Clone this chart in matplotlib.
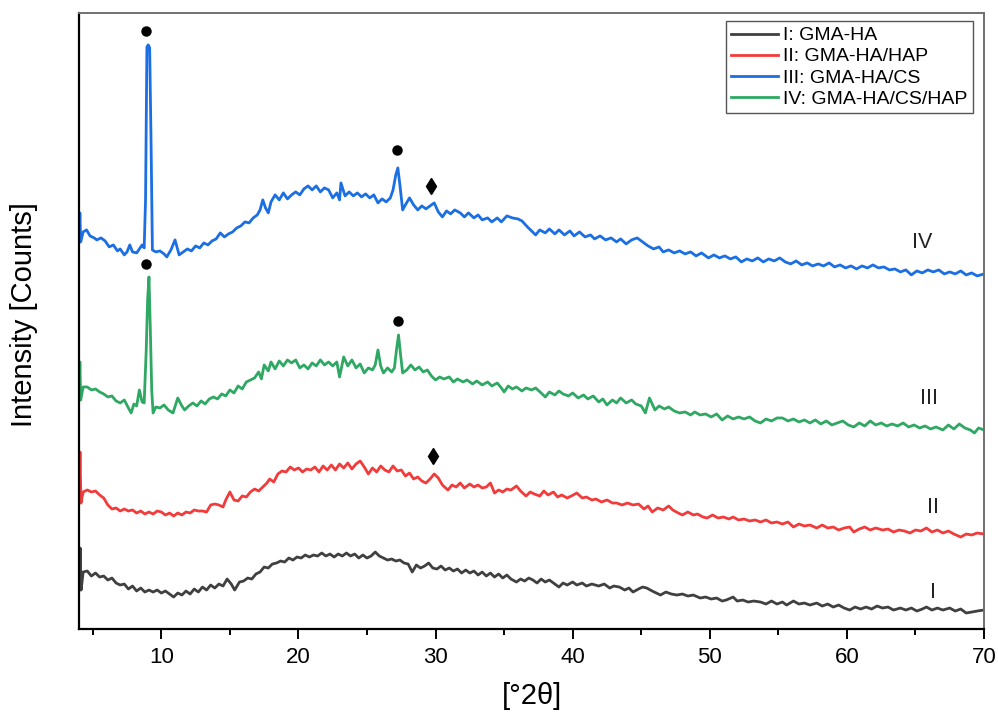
import matplotlib
matplotlib.use('Agg')
import matplotlib.pyplot as plt
import numpy as np

plt.rcParams['font.family'] = ['Liberation Sans', 'DejaVu Sans']

# XRD patterns, stacked with offsets (arbitrary counts)
# I: GMA-HA
curve_I = [
    (4.0, 39), (4.08, 81), (4.15, 39), (4.3, 57), (4.6, 58), (4.9, 53), (5.2, 56), (5.5, 52),
    (5.8, 53), (6.1, 49), (6.4, 51), (6.7, 46), (7.0, 44), (7.3, 45), (7.6, 40), (7.9, 43),
    (8.2, 38), (8.5, 41), (8.8, 37), (9.1, 39), (9.4, 37), (9.7, 39), (10.0, 36), (10.3, 38),
    (10.6, 35), (10.9, 32), (11.2, 36), (11.5, 34), (11.8, 38), (12.1, 35), (12.4, 40), (12.7, 37),
    (13.0, 42), (13.3, 39), (13.6, 44), (13.9, 41), (14.2, 45), (14.5, 43), (14.8, 50), (15.1, 45),
    (15.35, 39), (15.7, 47), (16.0, 48), (16.3, 51), (16.6, 50), (16.9, 55), (17.2, 57), (17.5, 62),
    (17.8, 61), (18.1, 65), (18.4, 66), (18.7, 68), (19.0, 67), (19.3, 71), (19.6, 69), (19.9, 72),
    (20.2, 71), (20.5, 74), (20.8, 72), (21.1, 74), (21.4, 73), (21.7, 76), (22.0, 73), (22.3, 75),
    (22.6, 72), (22.9, 75), (23.2, 73), (23.5, 76), (23.8, 73), (24.1, 75), (24.4, 71), (24.7, 74),
    (25.0, 71), (25.3, 73), (25.6, 77), (25.9, 73), (26.2, 71), (26.5, 69), (26.8, 70), (27.1, 68),
    (27.4, 69), (27.7, 66), (28.0, 65), (28.3, 57), (28.6, 64), (28.9, 61), (29.2, 63), (29.5, 66),
    (29.8, 61), (30.1, 60), (30.4, 63), (30.7, 59), (31.0, 61), (31.3, 58), (31.6, 60), (31.9, 56),
    (32.2, 59), (32.5, 56), (32.8, 58), (33.1, 54), (33.4, 57), (33.7, 53), (34.0, 56), (34.3, 52),
    (34.6, 55), (34.9, 51), (35.2, 54), (35.5, 50), (35.9, 47), (36.2, 50), (36.5, 48), (36.8, 51),
    (37.1, 49), (37.4, 46), (37.7, 50), (38.0, 47), (38.3, 49), (38.6, 46), (39.0, 42), (39.3, 46),
    (39.6, 44), (40.0, 47), (40.3, 44), (40.7, 46), (41.0, 43), (41.4, 45), (41.9, 43), (42.3, 45),
    (42.7, 41), (43.0, 43), (43.4, 42), (43.8, 39), (44.1, 41), (44.4, 37), (44.8, 40), (45.1, 42),
    (45.4, 41), (45.8, 38), (46.1, 36), (46.4, 34), (46.8, 37), (47.2, 35), (47.6, 34), (48.0, 35),
    (48.4, 33), (48.8, 34), (49.3, 31), (49.7, 32), (50.1, 30), (50.5, 31), (50.9, 28), (51.2, 29),
    (51.7, 32), (52.0, 28), (52.4, 29), (52.8, 27), (53.2, 28), (53.7, 27), (54.1, 25), (54.5, 28),
    (54.9, 25), (55.3, 27), (55.6, 24), (56.1, 28), (56.5, 25), (56.9, 26), (57.3, 24), (57.8, 26),
    (58.2, 23), (58.6, 25), (59.0, 22), (59.4, 24), (59.8, 21), (60.2, 19), (60.6, 22), (61.0, 20),
    (61.4, 22), (61.8, 20), (62.2, 23), (62.6, 21), (63.0, 22), (63.4, 19), (63.9, 21), (64.3, 19),
    (64.7, 21), (65.1, 18), (65.5, 20), (65.8, 22), (66.2, 19), (66.6, 21), (67.0, 19), (67.5, 21),
    (67.9, 18), (68.3, 20), (68.7, 16), (69.1, 17), (69.5, 18), (70.0, 19),
]

# II: GMA-HA/HAP
curve_II = [
    (4.0, 126), (4.07, 177), (4.14, 126), (4.3, 137), (4.6, 139), (4.9, 137), (5.2, 138), (5.5, 134),
    (5.8, 131), (6.1, 124), (6.4, 120), (6.7, 121), (7.0, 118), (7.3, 120), (7.6, 118), (7.9, 119),
    (8.2, 116), (8.5, 118), (8.8, 115), (9.1, 117), (9.4, 115), (9.7, 118), (10.0, 117), (10.3, 114),
    (10.6, 116), (10.9, 113), (11.2, 116), (11.5, 114), (11.8, 117), (12.1, 116), (12.4, 119), (12.7, 118),
    (13.0, 118), (13.3, 117), (13.6, 124), (13.9, 125), (14.2, 124), (14.5, 122), (14.7, 129), (15.0, 137),
    (15.3, 129), (15.6, 128), (15.9, 133), (16.2, 132), (16.5, 137), (16.8, 140), (17.1, 138), (17.4, 142),
    (17.7, 146), (17.9, 150), (18.2, 147), (18.5, 155), (18.8, 158), (19.1, 157), (19.4, 162), (19.7, 159),
    (20.0, 161), (20.3, 157), (20.6, 160), (20.9, 159), (21.2, 162), (21.5, 157), (21.8, 163), (22.1, 159),
    (22.4, 164), (22.7, 159), (23.0, 165), (23.3, 161), (23.6, 166), (23.9, 160), (24.2, 165), (24.5, 168),
    (24.8, 162), (25.1, 155), (25.4, 161), (25.7, 157), (26.0, 163), (26.3, 159), (26.6, 157), (26.9, 163),
    (27.2, 158), (27.5, 159), (27.8, 153), (28.1, 156), (28.4, 150), (28.7, 152), (29.0, 148), (29.3, 146),
    (29.6, 150), (29.9, 155), (30.2, 151), (30.5, 144), (30.9, 139), (31.2, 144), (31.5, 142), (31.8, 146),
    (32.1, 141), (32.5, 145), (32.8, 142), (33.1, 144), (33.4, 141), (33.7, 142), (34.0, 146), (34.3, 136),
    (34.6, 139), (34.9, 137), (35.2, 140), (35.5, 139), (35.9, 143), (36.2, 138), (36.6, 133), (36.9, 137),
    (37.2, 135), (37.6, 133), (37.9, 138), (38.2, 134), (38.6, 137), (38.9, 132), (39.2, 134), (39.6, 131),
    (39.9, 133), (40.3, 136), (40.7, 131), (41.0, 132), (41.4, 129), (41.7, 130), (42.1, 127), (42.5, 129),
    (42.9, 126), (43.2, 126), (43.6, 124), (44.0, 126), (44.4, 124), (44.8, 125), (45.2, 120), (45.5, 123),
    (45.8, 117), (46.2, 121), (46.6, 119), (47.0, 123), (47.3, 119), (47.7, 116), (48.0, 114), (48.4, 117),
    (48.8, 114), (49.1, 115), (49.5, 112), (49.8, 111), (50.2, 114), (50.6, 111), (51.0, 112), (51.4, 110),
    (51.7, 112), (52.1, 109), (52.5, 110), (52.9, 108), (53.3, 109), (53.7, 107), (54.1, 109), (54.5, 106),
    (54.9, 107), (55.3, 105), (55.7, 107), (56.1, 102), (56.5, 105), (56.9, 103), (57.3, 104), (57.8, 101),
    (58.2, 104), (58.6, 101), (59.0, 102), (59.4, 99), (59.8, 101), (60.2, 102), (60.5, 97), (60.9, 100),
    (61.3, 102), (61.7, 99), (62.1, 101), (62.6, 99), (63.0, 100), (63.4, 97), (63.8, 99), (64.2, 98),
    (64.6, 96), (65.0, 99), (65.4, 98), (65.8, 101), (66.2, 97), (66.6, 99), (67.0, 96), (67.4, 98),
    (67.8, 95), (68.3, 92), (68.7, 95), (69.1, 94), (69.5, 96), (70.0, 95),
]

# III: GMA-HA/CS
curve_III = [
    (4.0, 387), (4.06, 416), (4.12, 387), (4.3, 397), (4.55, 399), (4.8, 393), (5.1, 391), (5.3, 389),
    (5.6, 391), (5.9, 388), (6.2, 382), (6.5, 384), (6.8, 378), (7.0, 380), (7.3, 374), (7.5, 377),
    (7.7, 384), (7.9, 377), (8.2, 376), (8.4, 380), (8.6, 384), (8.75, 381), (8.85, 429), (8.95, 582),
    (9.05, 584), (9.15, 581), (9.25, 489), (9.35, 379), (9.6, 377), (9.9, 378), (10.2, 375), (10.4, 372),
    (10.7, 379), (11.0, 389), (11.3, 374), (11.6, 377), (11.9, 380), (12.2, 378), (12.5, 383), (12.8, 381),
    (13.1, 386), (13.4, 384), (13.7, 388), (14.0, 390), (14.3, 396), (14.6, 392), (14.9, 395), (15.2, 397),
    (15.5, 401), (15.8, 403), (16.1, 407), (16.4, 406), (16.7, 411), (17.0, 414), (17.2, 419), (17.4, 429),
    (17.6, 421), (17.8, 416), (18.0, 427), (18.3, 434), (18.6, 429), (18.9, 436), (19.2, 430), (19.5, 434),
    (19.8, 437), (20.1, 434), (20.4, 440), (20.7, 443), (21.0, 439), (21.3, 443), (21.6, 437), (21.9, 441),
    (22.2, 439), (22.5, 431), (22.8, 436), (23.0, 429), (23.1, 446), (23.4, 433), (23.7, 437), (24.0, 433),
    (24.3, 436), (24.6, 432), (24.9, 435), (25.2, 431), (25.5, 434), (25.8, 426), (26.1, 430), (26.4, 427),
    (26.7, 431), (26.9, 439), (27.1, 454), (27.25, 461), (27.4, 444), (27.6, 419), (27.8, 424), (28.1, 431),
    (28.4, 424), (28.7, 419), (29.0, 423), (29.3, 420), (29.6, 423), (29.9, 426), (30.2, 417), (30.5, 412),
    (30.8, 418), (31.1, 415), (31.4, 419), (31.8, 416), (32.1, 412), (32.4, 416), (32.8, 411), (33.1, 414),
    (33.4, 409), (33.8, 411), (34.1, 407), (34.5, 411), (34.8, 407), (35.2, 413), (35.6, 411), (36.0, 410),
    (36.3, 408), (36.7, 402), (37.0, 398), (37.3, 394), (37.6, 399), (38.0, 396), (38.3, 400), (38.7, 395),
    (39.0, 399), (39.4, 394), (39.8, 398), (40.1, 393), (40.5, 397), (40.9, 392), (41.3, 394), (41.6, 390),
    (42.0, 393), (42.4, 389), (42.8, 391), (43.2, 387), (43.5, 390), (43.9, 385), (44.3, 389), (44.7, 391),
    (45.1, 387), (45.5, 383), (45.9, 380), (46.3, 382), (46.6, 377), (47.0, 379), (47.4, 376), (47.8, 378),
    (48.2, 375), (48.6, 377), (49.0, 373), (49.4, 376), (49.9, 371), (50.3, 374), (50.7, 371), (51.1, 373),
    (51.5, 370), (51.9, 372), (52.3, 367), (52.7, 370), (53.1, 368), (53.5, 371), (53.9, 367), (54.3, 370),
    (54.7, 368), (55.1, 371), (55.5, 367), (55.9, 365), (56.3, 368), (56.7, 364), (57.1, 366), (57.5, 363),
    (57.9, 365), (58.3, 363), (58.7, 366), (59.1, 362), (59.5, 364), (59.9, 361), (60.3, 363), (60.7, 360),
    (61.1, 363), (61.5, 361), (61.9, 364), (62.3, 361), (62.7, 362), (63.1, 359), (63.5, 360), (63.9, 357),
    (64.3, 359), (64.7, 354), (65.1, 358), (65.5, 356), (65.9, 359), (66.3, 357), (66.7, 359), (67.1, 355),
    (67.5, 357), (67.9, 355), (68.3, 358), (68.7, 354), (69.1, 356), (69.5, 353), (70.0, 355),
]

# IV: GMA-HA/CS/HAP
curve_IV = [
    (4.0, 229), (4.06, 267), (4.12, 229), (4.3, 242), (4.6, 242), (4.9, 239), (5.2, 240), (5.5, 237),
    (5.8, 235), (6.1, 232), (6.4, 233), (6.7, 228), (7.0, 226), (7.3, 229), (7.6, 221), (7.8, 216),
    (8.0, 225), (8.2, 223), (8.4, 239), (8.6, 227), (8.75, 226), (8.9, 279), (9.0, 329), (9.1, 352),
    (9.2, 299), (9.3, 239), (9.4, 216), (9.6, 222), (9.9, 221), (10.2, 224), (10.5, 219), (10.85, 216),
    (11.2, 231), (11.5, 223), (11.7, 219), (12.0, 223), (12.3, 226), (12.6, 223), (12.9, 228), (13.2, 225),
    (13.5, 230), (13.8, 232), (14.1, 230), (14.4, 235), (14.7, 233), (15.0, 239), (15.3, 236), (15.6, 243),
    (15.9, 240), (16.2, 247), (16.5, 249), (16.8, 251), (17.1, 257), (17.3, 250), (17.5, 264), (17.8, 258),
    (18.0, 267), (18.3, 260), (18.6, 268), (18.9, 263), (19.2, 269), (19.5, 266), (19.8, 269), (20.1, 261),
    (20.4, 264), (20.7, 260), (21.0, 266), (21.3, 263), (21.6, 269), (21.9, 264), (22.2, 267), (22.5, 263),
    (22.8, 267), (23.0, 252), (23.3, 272), (23.6, 263), (23.9, 269), (24.2, 261), (24.5, 265), (24.8, 256),
    (25.1, 261), (25.4, 259), (25.6, 264), (25.8, 279), (26.0, 263), (26.2, 256), (26.5, 261), (26.8, 257),
    (27.0, 261), (27.15, 279), (27.3, 294), (27.45, 274), (27.6, 256), (27.9, 259), (28.2, 264), (28.5, 259),
    (28.8, 262), (29.1, 257), (29.4, 259), (29.7, 253), (30.0, 249), (30.3, 252), (30.6, 250), (31.0, 252),
    (31.3, 247), (31.6, 250), (32.0, 247), (32.3, 249), (32.7, 245), (33.0, 248), (33.4, 244), (33.8, 247),
    (34.1, 243), (34.5, 246), (34.8, 241), (35.0, 237), (35.3, 243), (35.6, 240), (35.9, 242), (36.3, 238),
    (36.6, 241), (37.0, 239), (37.3, 241), (37.7, 236), (38.0, 232), (38.3, 237), (38.7, 234), (39.0, 238),
    (39.3, 235), (39.7, 233), (40.0, 236), (40.4, 231), (40.8, 234), (41.1, 230), (41.5, 233), (41.9, 227),
    (42.2, 230), (42.5, 224), (42.9, 229), (43.2, 226), (43.5, 231), (43.9, 226), (44.3, 229), (44.6, 225),
    (45.0, 223), (45.3, 216), (45.6, 231), (46.0, 219), (46.3, 223), (46.7, 220), (47.0, 222), (47.4, 218),
    (47.8, 216), (48.2, 217), (48.6, 214), (48.9, 217), (49.3, 214), (49.7, 215), (50.1, 212), (50.5, 215),
    (50.9, 209), (51.3, 213), (51.7, 210), (52.1, 212), (52.5, 210), (52.9, 212), (53.3, 208), (53.7, 206),
    (54.1, 210), (54.5, 208), (54.9, 211), (55.3, 211), (55.7, 208), (56.1, 210), (56.5, 207), (56.9, 209),
    (57.3, 206), (57.7, 209), (58.1, 205), (58.5, 208), (58.9, 204), (59.3, 206), (59.7, 208), (60.1, 204),
    (60.5, 202), (60.9, 206), (61.3, 203), (61.7, 208), (62.1, 204), (62.5, 206), (62.9, 203), (63.3, 205),
    (63.7, 203), (64.1, 206), (64.5, 202), (64.9, 204), (65.3, 201), (65.7, 203), (66.1, 200), (66.5, 202),
    (67.0, 199), (67.4, 204), (67.8, 200), (68.2, 205), (68.6, 201), (69.0, 199), (69.3, 196), (69.6, 201),
    (70.0, 199),
]

legend_labels = ['I: GMA-HA', 'II: GMA-HA/HAP', 'III: GMA-HA/CS', 'IV: GMA-HA/CS/HAP']
colors = ['#404040', '#F23B3B', '#1B6FE3', '#2EA862']

# reflection markers (2theta, height)
dot_marks = [(8.85, 598), (8.85, 365), (27.2, 479), (27.25, 308)]
diamond_marks = [(29.7, 443), (29.85, 173)]

# curve tags on the right side
tag_text = ['IV', 'III', 'II', 'I']
tag_pos = [(65.5, 386), (66.0, 230), (66.25, 121), (66.3, 37)]

fig = plt.figure(figsize=(9.98, 7.14), dpi=100)
ax = fig.add_axes([0.0792, 0.119, 0.9068, 0.863])

for pts, lab, c in zip([curve_I, curve_II, curve_III, curve_IV], legend_labels, colors):
    pts = np.array(pts)
    ax.plot(pts[:, 0], pts[:, 1], color=c, lw=2.0, label=lab)

for x, y in dot_marks:
    ax.plot(x, y, 'o', color='black', ms=6.5)
for x, y in diamond_marks:
    ax.plot(x, y, 'd', color='black', ms=8)

for t, (x, y) in zip(tag_text, tag_pos):
    ax.text(x, y, t, fontsize=15.5, ha='center', va='center', color='#222222')

ax.set_xlim(4, 70)
ax.set_ylim(0, 616)
ax.set_yticks([])
ax.set_xticks(np.arange(10, 71, 10))
ax.set_xticks(np.arange(5, 70, 10), minor=True)
ax.tick_params(axis='x', which='major', direction='out', length=7, width=1.4, labelsize=16, pad=6)
ax.tick_params(axis='x', which='minor', direction='out', length=4, width=1.4)

for s in ['left', 'bottom']:
    ax.spines[s].set_color('black')
    ax.spines[s].set_linewidth(1.6)
for s in ['top', 'right']:
    ax.spines[s].set_color('#707070')
    ax.spines[s].set_linewidth(1.4)

ax.set_xlabel('[°2θ]', fontsize=21, labelpad=10)
ax.set_ylabel('Intensity [Counts]', fontsize=21)
ax.yaxis.set_label_coords(-0.045, 0.51)

leg = ax.legend(loc='upper right', bbox_to_anchor=(0.988, 0.987), borderaxespad=0,
                fontsize=14, handlelength=2.4, handletextpad=0.25, labelspacing=0.18,
                borderpad=0.3, fancybox=False, framealpha=1, edgecolor='#555555')
leg.get_frame().set_linewidth(1.0)

fig.savefig('out.png', dpi=100)
